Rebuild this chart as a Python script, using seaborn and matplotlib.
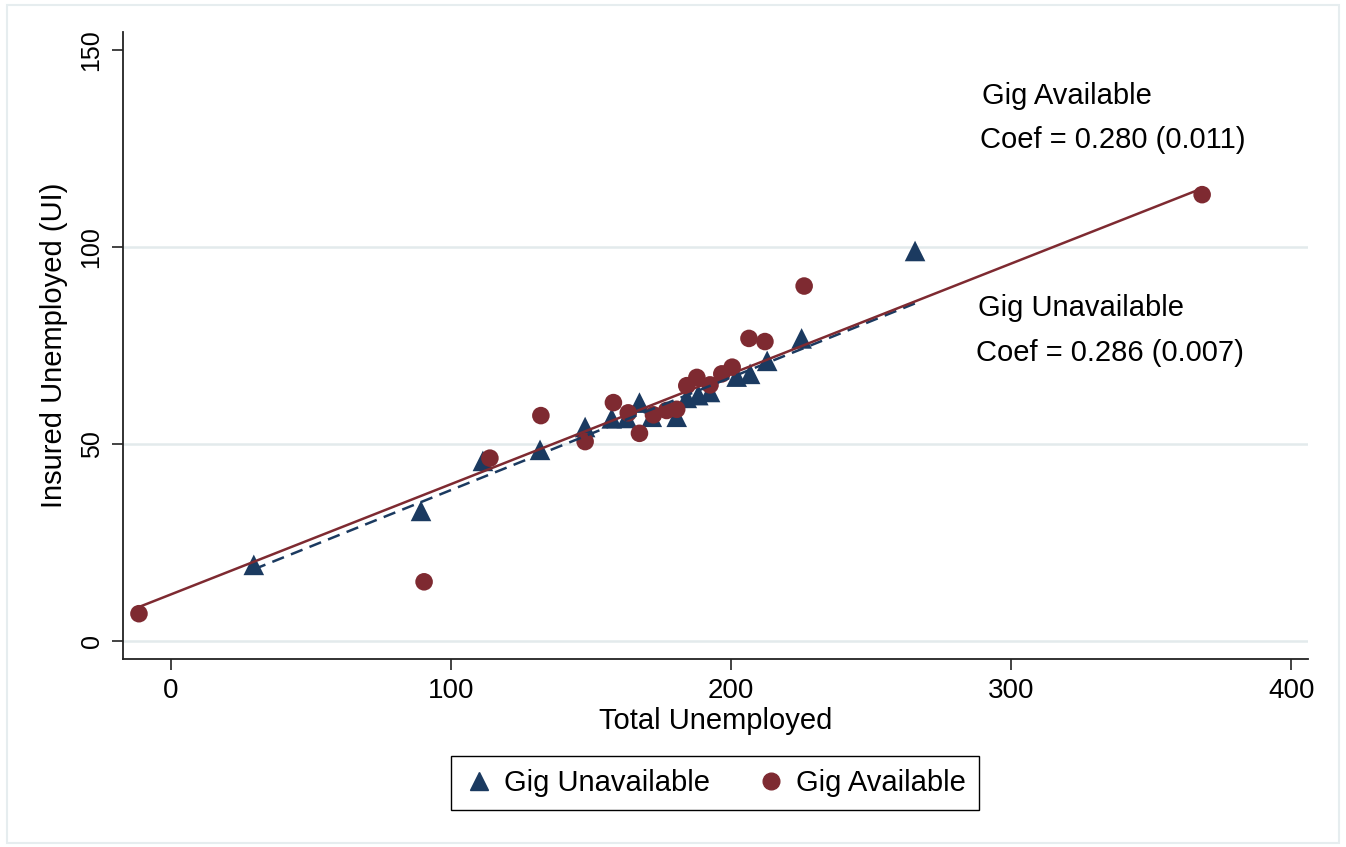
import matplotlib
matplotlib.use("Agg")
import matplotlib.pyplot as plt
from matplotlib.lines import Line2D
from matplotlib.patches import Rectangle
import seaborn as sns
import numpy as np
import pandas as pd

# Gig Unavailable (triangles)
unavail_total = [29.6, 89.3, 111.4, 131.8, 147.9, 157.4, 162.8, 167.3, 171.7, 180.6,
                 184.2, 188.3, 192.5, 202.0, 206.8, 212.9, 225.2, 265.7]
unavail_ui = [19.3, 33.0, 45.7, 48.5, 54.3, 56.5, 56.6, 60.5, 56.9, 56.9,
              61.7, 62.4, 63.2, 67.1, 67.8, 71.1, 76.8, 99.0]

# Gig Available (circles)
avail_total = [-11.4, 90.4, 113.9, 132.1, 147.9, 158.0, 163.3, 167.3, 172.3, 177.0,
               180.6, 184.2, 187.8, 192.5, 196.7, 200.4, 206.4, 212.1, 226.1, 368.2]
avail_ui = [6.9, 15.0, 46.4, 57.2, 50.6, 60.5, 57.9, 52.7, 57.4, 58.5,
            58.8, 64.8, 66.9, 65.0, 67.8, 69.5, 76.8, 76.0, 90.1, 113.3]

# Fitted lines: slopes are the reported coefficients
groups = ["Gig Unavailable", "Gig Available"]
coef = {"Gig Unavailable": 0.286, "Gig Available": 0.280}
std_err = {"Gig Unavailable": 0.007, "Gig Available": 0.011}
intercept = {"Gig Unavailable": 9.7, "Gig Available": 11.8}

x_ticks = [0, 100, 200, 300, 400]
y_ticks = [0, 50, 100, 150]

NAVY = "#1b3a60"
MAROON = "#7e2a31"
GRID = "#e3eaec"

df = pd.concat([
    pd.DataFrame({"total": unavail_total, "ui": unavail_ui, "group": groups[0]}),
    pd.DataFrame({"total": avail_total, "ui": avail_ui, "group": groups[1]}),
], ignore_index=True)

# Fitted values over each group's observed range
fit_rows = []
for g in groups:
    sub = df[df["group"] == g]
    xs = np.array([sub["total"].min(), sub["total"].max()])
    fit_rows.append(pd.DataFrame({"total": xs, "fit": intercept[g] + coef[g] * xs,
                                  "group": g}))
fits = pd.concat(fit_rows, ignore_index=True)

sns.set_theme(style="white")
plt.rcParams["font.family"] = ["Liberation Sans", "DejaVu Sans"]
plt.rcParams["text.color"] = "black"

fig = plt.figure(figsize=(13.46, 8.47), dpi=100)
fig.patches.append(Rectangle((7 / 1346, 4 / 847), 1332 / 1346, 838 / 847,
                             transform=fig.transFigure, fill=False,
                             edgecolor="#e6edef", linewidth=1.5))
ax = fig.add_axes([123 / 1346, 1 - 659 / 847, (1308 - 123) / 1346, (659 - 32) / 847])

for y in [0, 50, 100]:
    ax.axhline(y, color=GRID, linewidth=1.8, zorder=0)

un = df[df["group"] == groups[0]]
av = df[df["group"] == groups[1]]
sns.scatterplot(data=un, x="total", y="ui", marker="^", s=220, color=NAVY,
                edgecolor="none", ax=ax, zorder=2, legend=False)
sns.scatterplot(data=av, x="total", y="ui", marker="o", s=160, color=MAROON,
                edgecolor="none", ax=ax, zorder=3, legend=False)
sns.lineplot(data=fits[fits["group"] == groups[0]], x="total", y="fit", ax=ax,
             color=NAVY, linewidth=1.8, linestyle=(0, (5, 3)), zorder=4)
sns.lineplot(data=fits[fits["group"] == groups[1]], x="total", y="fit", ax=ax,
             color=MAROON, linewidth=1.8, zorder=5)

ax.set_xlim(-17.1, 406)
ax.set_ylim(-4.6, 154.6)
ax.set_xticks(x_ticks)
ax.set_yticks(y_ticks)
ax.set_yticklabels([str(v) for v in y_ticks], rotation=90, va="center")
ax.tick_params(axis="both", which="major", direction="out", length=8, width=1.2,
               color="#222222", labelcolor="black", pad=6, bottom=True, left=True)
ax.tick_params(axis="x", labelsize=20)
ax.tick_params(axis="y", labelsize=18)
for side in ["top", "right"]:
    ax.spines[side].set_visible(False)
for side in ["left", "bottom"]:
    ax.spines[side].set_color("#222222")
    ax.spines[side].set_linewidth(1.3)

ax.set_xlabel("Total Unemployed", fontsize=21, color="black", labelpad=2)
ax.set_ylabel("Insured Unemployed (UI)", fontsize=21, color="black", labelpad=8)

for g, (x_name, y_name, x_coef, y_coef) in {
    groups[1]: (289.5, 138.3, 289.0, 127.2),
    groups[0]: (288.0, 84.5, 287.3, 73.1),
}.items():
    ax.text(x_name, y_name, g, fontsize=21, va="center", ha="left")
    ax.text(x_coef, y_coef, f"Coef = {coef[g]:.3f} ({std_err[g]:.3f})",
            fontsize=21, va="center", ha="left")

handles = [
    Line2D([], [], marker="^", linestyle="none", color=NAVY, markersize=13),
    Line2D([], [], marker="o", linestyle="none", color=MAROON, markersize=12),
]
leg = fig.legend(handles, groups, loc="center", ncol=2,
                 bbox_to_anchor=(715 / 1346, 1 - 783 / 847),
                 fontsize=21, frameon=True, fancybox=False, framealpha=1,
                 edgecolor="black", handletextpad=0.35, columnspacing=1.6,
                 handlelength=1.0, borderpad=0.45)
leg.get_frame().set_linewidth(1.0)

fig.savefig("out.png", dpi=100)
